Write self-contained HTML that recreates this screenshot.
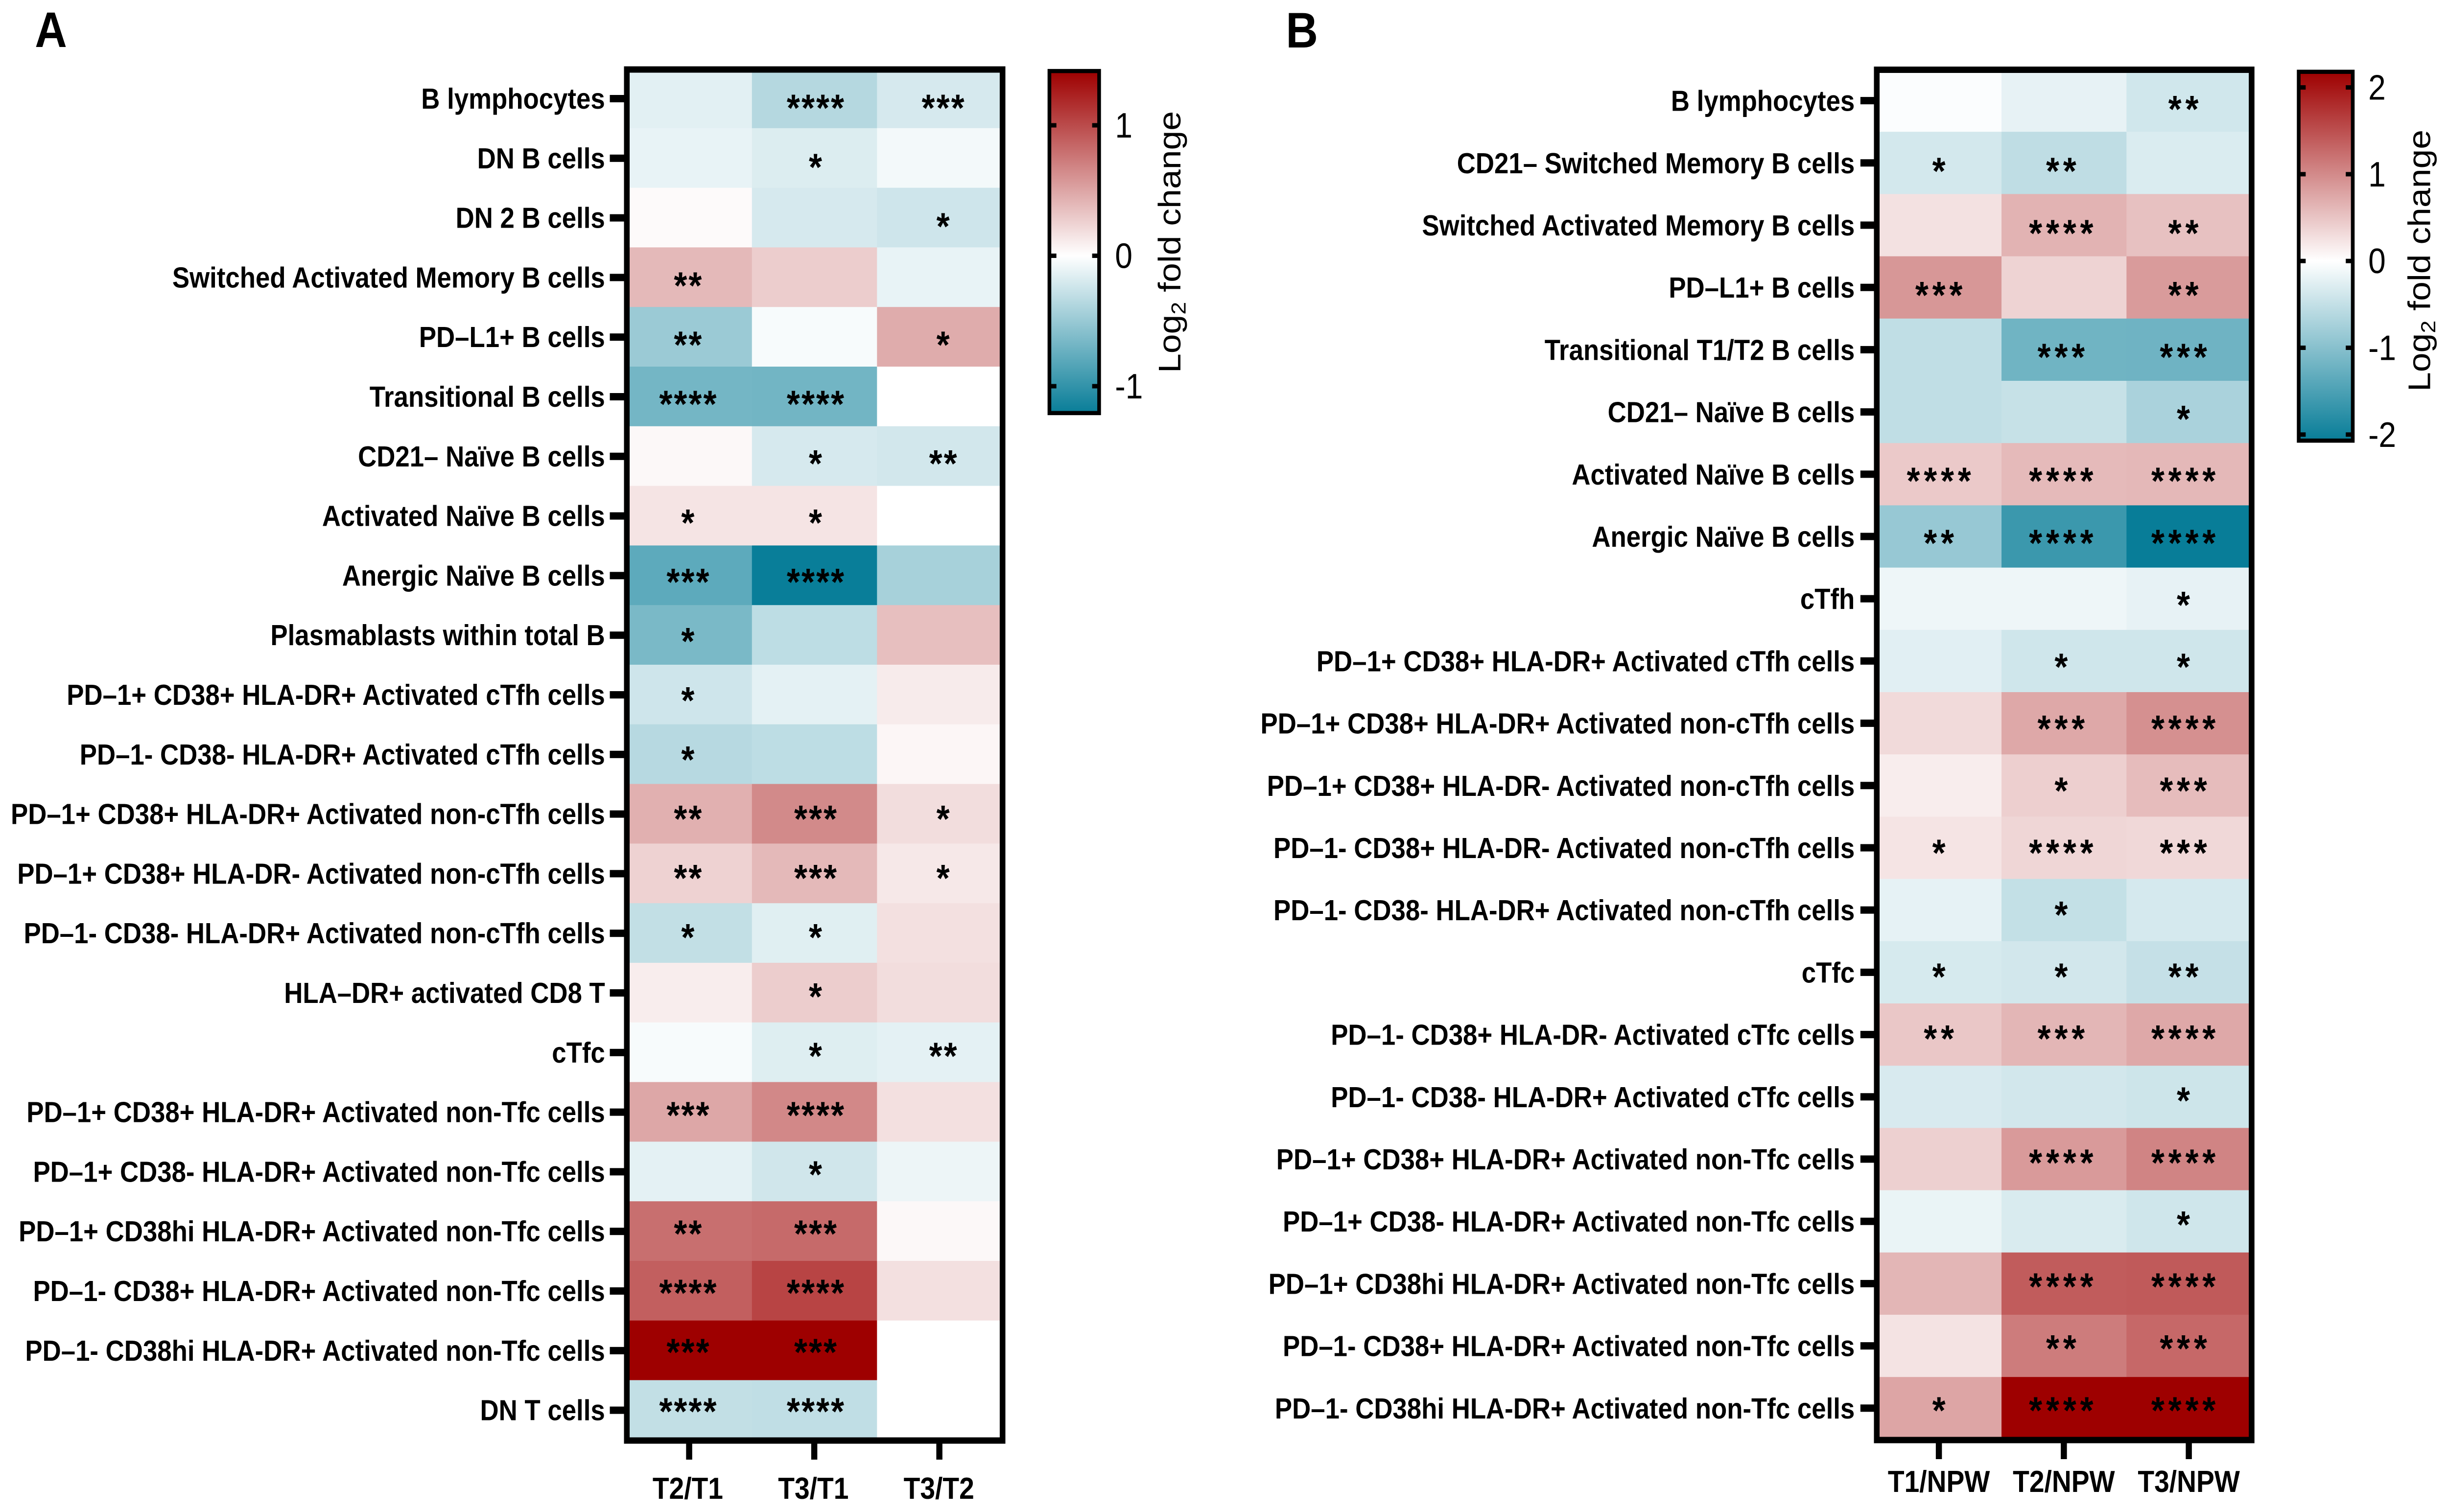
<!DOCTYPE html>
<html lang="en">
<head>
<meta charset="utf-8">
<title>Log2 fold change heatmaps</title>
<style>
html,body{margin:0;padding:0;background:#fff;overflow:hidden;width:100%;height:100%;}
svg{display:block;width:100vw;height:100vh;overflow:hidden;}
text{font-family:"Liberation Sans",Arial,sans-serif;fill:#000;}
</style>
</head>
<body>
<svg id="figure" xmlns="http://www.w3.org/2000/svg" viewBox="0 0 5616 3089" preserveAspectRatio="none">
<rect width="5616" height="3089" fill="#fff"/>
</svg>
<script>
/* ---------- Panel A data ---------- */
const categoriesA = ["B lymphocytes","DN B cells","DN 2 B cells","Switched Activated Memory B cells","PD–L1+ B cells","Transitional B cells","CD21– Naïve B cells","Activated Naïve B cells","Anergic Naïve B cells","Plasmablasts within total B","PD–1+ CD38+ HLA-DR+ Activated cTfh cells","PD–1- CD38- HLA-DR+ Activated cTfh cells","PD–1+ CD38+ HLA-DR+ Activated non-cTfh cells","PD–1+ CD38+ HLA-DR- Activated non-cTfh cells","PD–1- CD38- HLA-DR+ Activated non-cTfh cells","HLA–DR+ activated CD8 T","cTfc","PD–1+ CD38+ HLA-DR+ Activated non-Tfc cells","PD–1+ CD38- HLA-DR+ Activated non-Tfc cells","PD–1+ CD38hi HLA-DR+ Activated non-Tfc cells","PD–1- CD38+ HLA-DR+ Activated non-Tfc cells","PD–1- CD38hi HLA-DR+ Activated non-Tfc cells","DN T cells"];
const comparisonsA = ["T2/T1","T3/T1","T3/T2"];
const t2t1A = [-.14,-.11,.03,.39,-.49,-.68,.04,.15,-.79,-.65,-.24,-.35,.44,.25,-.30,.10,-.04,.49,-.13,.80,.89,1.42,-.30];
const t3t1A = [-.36,-.17,-.20,.28,-.04,-.69,-.20,.15,-1.2,-.32,-.13,-.32,.65,.39,-.15,.28,-.16,.66,-.23,.83,1.04,1.42,-.31];
const t3t2A = [-.20,-.06,-.24,-.11,.46,0,-.22,0,-.43,.355,.11,.05,.19,.13,.17,.19,-.13,.17,-.09,.04,.17,0,0];
const starsT2T1A = [0,0,0,2,2,4,0,1,3,1,1,1,2,2,1,0,0,3,0,2,4,3,4];
const starsT3T1A = [4,1,0,0,0,4,1,1,4,0,0,0,3,3,1,1,1,4,1,3,4,3,4];
const starsT3T2A = [3,0,1,0,1,0,2,0,0,0,0,0,1,1,0,0,2,0,0,0,0,0,0];
const scaleTicksA = [-1,0,1];

/* ---------- Panel B data ---------- */
const categoriesB = ["B lymphocytes","CD21– Switched Memory B cells","Switched Activated Memory B cells","PD–L1+ B cells","Transitional T1/T2 B cells","CD21– Naïve B cells","Activated Naïve B cells","Anergic Naïve B cells","cTfh","PD–1+ CD38+ HLA-DR+ Activated cTfh cells","PD–1+ CD38+ HLA-DR+ Activated non-cTfh cells","PD–1+ CD38+ HLA-DR- Activated non-cTfh cells","PD–1- CD38+ HLA-DR- Activated non-cTfh cells","PD–1- CD38- HLA-DR+ Activated non-cTfh cells","cTfc","PD–1- CD38+ HLA-DR- Activated cTfc cells","PD–1- CD38- HLA-DR+ Activated cTfc cells","PD–1+ CD38+ HLA-DR+ Activated non-Tfc cells","PD–1+ CD38- HLA-DR+ Activated non-Tfc cells","PD–1+ CD38hi HLA-DR+ Activated non-Tfc cells","PD–1- CD38+ HLA-DR+ Activated non-Tfc cells","PD–1- CD38hi HLA-DR+ Activated non-Tfc cells"];
const comparisonsB = ["T1/NPW","T2/NPW","T3/NPW"];
const t1npwB = [-.03,-.37,.26,.89,-.53,-.53,.46,-.87,-.14,-.25,.32,.15,.23,-.21,-.34,.48,-.33,.40,-.18,.62,.24,.77];
const t2npwB = [-.20,-.54,.65,.38,-1.2,-.475,.59,-1.64,-.14,-.40,.74,.41,.35,-.50,-.38,.62,-.38,.86,-.32,1.39,1.12,2.18];
const t3npwB = [-.39,-.31,.53,.855,-1.21,-.71,.61,-2.07,-.20,-.40,.95,.57,.33,-.35,-.49,.74,-.42,1.05,-.40,1.41,1.29,2.18];
const starsT1B = [0,1,0,3,0,0,4,2,0,0,0,0,1,0,1,2,0,0,0,0,0,1];
const starsT2B = [0,2,4,0,3,0,4,4,0,1,3,1,4,1,1,3,0,4,0,4,2,4];
const starsT3B = [2,0,2,2,3,1,4,4,1,1,4,3,3,0,2,4,1,4,1,4,3,4];
const scaleTicksB = [-2,-1,0,1,2];

/* ---------- Drawing ---------- */
const NS = "http://www.w3.org/2000/svg";
const svg = document.getElementById("figure");
const RED = [158,0,0], TEAL = [8,125,152], WHITE = [255,255,255];

function el(tag, attrs, parent) {
  const n = document.createElementNS(NS, tag);
  for (const k in attrs) n.setAttribute(k, attrs[k]);
  (parent || svg).appendChild(n);
  return n;
}
function mix(a, b, t) {
  t = Math.max(0, Math.min(1, t));
  return "rgb(" + a.map((v, i) => Math.round(v + (b[i] - v) * t)).join(",") + ")";
}
function slug(s) {
  return s.toLowerCase().normalize("NFD").replace(/[^a-z0-9+]+/g, "-").replace(/\+/g, "pos").replace(/^-|-$/g, "");
}

function drawPanel(p) {
  const g = el("g", {});
  
  

  const colour = v => v >= 0 ? mix(WHITE, RED, v / p.vMax) : mix(WHITE, TEAL, v / p.vMin);
  const xBand = c => p.x0 + c * p.colW;
  const yBand = r => p.y0 + r * p.rowH;
  const xTick = c => p.tickX0 + c * p.tickDX;
  const yTick = r => p.tickY0 + r * p.rowH;
  const xStar = c => p.starX0 + c * p.starDX;
  const yStar = r => p.starY0 + r * p.starDY;
  const yScale = v => p.scaleZero - v * p.scaleUnit;

  const letter = el("text", {x: p.letterX, y: p.letterY, "font-size": 102, "font-weight": 700}, g);
  letter.textContent = p.id;
  
  

  /* heatmap cells */
  p.series.forEach((vals, c) => {
    vals.forEach((v, r) => {
      const cell = el("rect", {x: xBand(c), y: yBand(r), width: p.colW + (c < 2 ? .6 : 0), height: p.rowH + .6, fill: colour(v)}, g);
      
      
    });
  });

  /* significance stars */
  p.stars.forEach((counts, c) => {
    counts.forEach((n, r) => {
      if (!n) return;
      const t = el("text", {x: xStar(c) + p.starLS / 2, y: yStar(r) + p.starBase, "font-size": p.starSize, "font-weight": 700, "text-anchor": "middle", "letter-spacing": p.starLS}, g);
      t.textContent = "*".repeat(n);
      
      
    });
  });

  /* frame */
  const frame = el("rect", {x: p.fx, y: p.fy, width: p.fw, height: p.fh, fill: "none", stroke: "#000", "stroke-width": 13}, g);
  
  

  /* y axis */
  p.rows.forEach((label, r) => {
    const tick = el("rect", {x: p.yTickX, y: yTick(r) - 7.5, width: p.yTickLen, height: 15, fill: "#000"}, g);
    
    
    const t = el("text", {x: p.labelX, y: yTick(r) + p.labelBase, "font-size": 59.3, "font-weight": 700, "text-anchor": "end"}, g);
    t.textContent = label;
    
    
  });

  /* x axis */
  p.cols.forEach((label, c) => {
    const tick = el("rect", {x: xTick(c) - 7, y: p.xTickY, width: 14, height: 33, fill: "#000"}, g);
    
    
    const t = el("text", {x: p.xLabelX0 + c * p.xLabelDX, y: p.xLabelY, "font-size": p.xLabelSize, "font-weight": 700, "text-anchor": "middle"}, g);
    t.textContent = label;
    
    
  });

  /* colour scale */
  const gradId = "grad" + p.id;
  const defs = el("defs", {}, g);
  const grad = el("linearGradient", {id: gradId, gradientUnits: "userSpaceOnUse", x1: 0, x2: 0, y1: yScale(p.vMax), y2: yScale(p.vMin)}, defs);
  el("stop", {offset: 0, "stop-color": mix(WHITE, RED, 1)}, grad);
  el("stop", {offset: p.vMax / (p.vMax - p.vMin), "stop-color": "#fff"}, grad);
  el("stop", {offset: 1, "stop-color": mix(WHITE, TEAL, 1)}, grad);
  const bar = el("rect", {x: p.cbX, y: yScale(p.vMax), width: p.cbW, height: yScale(p.vMin) - yScale(p.vMax), fill: "url(#" + gradId + ")", stroke: "#000", "stroke-width": 8.5}, g);
  
  
  p.scaleTicks.forEach(v => {
    [p.cbX, p.cbX + p.cbW - 16].forEach((x, side) => {
      const tk = el("rect", {x: x, y: yScale(v) - 4.5, width: 16, height: 9, fill: "#000"}, g);
      
      
    });
    const t = el("text", {x: p.cbLabelX, y: yScale(v) + 25, "font-size": 72}, g);
    t.textContent = String(v);
    
    
  });
  const title = el("text", {transform: "translate(" + p.titleX + "," + p.titleY + ") rotate(-90)", "font-size": 71.5}, g);
  
  
  const t1 = el("tspan", {}, title);
  t1.textContent = "Log";
  const t2 = el("tspan", {"font-size": 47, dy: 12}, title);
  t2.textContent = "2";
  const t3 = el("tspan", {dy: -12}, title);
  t3.textContent = " fold change";
}

drawPanel({
  id: "A", rows: categoriesA, cols: comparisonsA,
  series: [t2t1A, t3t1A, t3t2A], stars: [starsT2T1A, starsT3T1A, starsT3T2A],
  vMax: 1.416, vMin: -1.206, scaleTicks: scaleTicksA,
  letterX: 80, letterY: 96,
  x0: 1438, colW: 287, y0: 140, rowH: 121.8,
  fx: 1438, fy: 142, fw: 862, fh: 2801,
  tickX0: 1581, tickDX: 287, tickY0: 201.5,
  yTickX: 1399, yTickLen: 34, labelX: 1388, labelBase: 20.5,
  xTickY: 2949, xLabelX0: 1578, xLabelDX: 288, xLabelY: 3062, xLabelSize: 62,
  starX0: 1578, starDX: 292.7, starY0: 209, starDY: 121.05, starBase: 38, starSize: 78, starLS: 3.4,
  scaleZero: 522.5, scaleUnit: 266.5, cbX: 2407.5, cbW: 114, cbLabelX: 2558,
  titleX: 2708, titleY: 762
});

drawPanel({
  id: "B", rows: categoriesB, cols: comparisonsB,
  series: [t1npwB, t2npwB, t3npwB], stars: [starsT1B, starsT2B, starsT3B],
  vMax: 2.18, vMin: -2.07, scaleTicks: scaleTicksB,
  letterX: 2950, letterY: 97,
  x0: 4305, colW: 286.7, y0: 142, rowH: 127.2,
  fx: 4305.5, fy: 142.5, fw: 860, fh: 2799.5,
  tickX0: 4448, tickDX: 286.7, tickY0: 205.6,
  yTickX: 4268, yTickLen: 32, labelX: 4255, labelBase: 21,
  xTickY: 2948, xLabelX0: 4448, xLabelDX: 286.7, xLabelY: 3048, xLabelSize: 62,
  starX0: 4448, starDX: 280.5, starY0: 211.6, starDY: 126.6, starBase: 38, starSize: 78, starLS: 8.7,
  scaleZero: 533.2, scaleUnit: 177.3, cbX: 5273.5, cbW: 124, cbLabelX: 5433,
  titleX: 5575, titleY: 800
});
</script>
</body>
</html>
